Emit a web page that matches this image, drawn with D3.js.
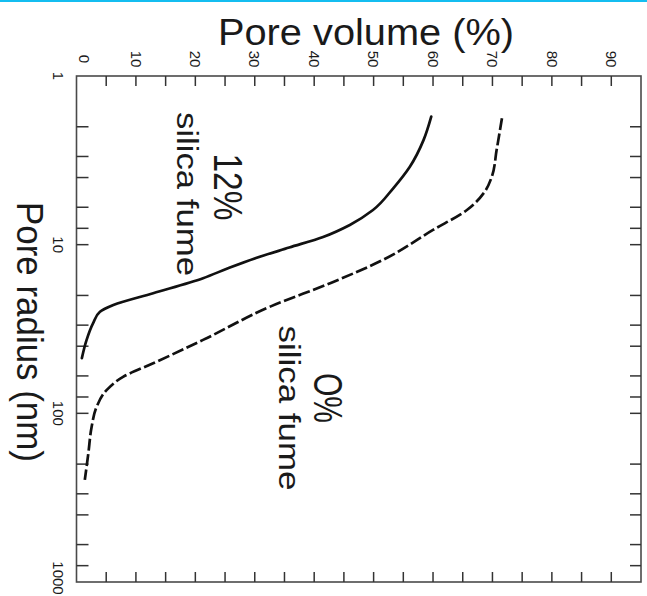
<!DOCTYPE html>
<html>
<head>
<meta charset="utf-8">
<script src="https://cdn.jsdelivr.net/npm/d3@7"></script>
<style>
  html, body { margin: 0; padding: 0; background: #fff; }
  svg { display: block; }
  text { font-family: "Liberation Sans", Arial, Helvetica, sans-serif; fill: #1a1a1a; }
</style>
</head>
<body>
<svg id="chart" width="647" height="596"></svg>
<script>
// Pore volume (%) against pore radius (nm), drawn turned a quarter clockwise:
// volume runs across the top, radius (log) runs down the page.

const volumeLabels = [0, 10, 20, 30, 40, 50, 60, 70, 80, 90];
const volumeTicks = d3.range(5, 95, 5);
const radiusLabels = [1, 10, 100, 1000];
const radiusMinor = [2, 3, 4, 6, 8, 20, 30, 40, 60, 80, 200, 300, 400, 600, 800];

// 12% silica fume
const radius12 = [1.74, 2.4, 3.45, 4.63, 6.23, 7.64, 9.0, 10.4, 12.0, 13.8, 15.8, 19.4, 22.8, 25.0, 29.2, 36.7, 47.1];
const volume12 = [59.7, 58.4, 56.1, 53.3, 49.9, 46.0, 41.5, 35.8, 30.2, 25.5, 21.3, 12.9, 6.2, 3.95, 2.8, 1.7, 0.9];

// 0% silica fume
const radius0 = [1.78, 2.75, 3.95, 4.85, 6.23, 8.18, 12.3, 16.8, 23.3, 36.7, 50.5, 60.6, 72.6, 91.2, 120, 172, 248];
const volume0 = [71.6, 70.7, 69.9, 68.7, 65.7, 60.0, 51.6, 42.9, 32.6, 21.3, 12.9, 7.9, 5.1, 3.4, 2.55, 2.0, 1.4];

const svg = d3.select("#chart");
const frameL = 76.5, frameR = 641, frameT = 76, frameB = 582;

const x = d3.scaleLinear().domain([0, 95]).range([frameL, frameR]);
const y = d3.scaleLog().domain([1, 1000]).range([frameT, frameB]);

// thin cyan rule along the top edge
svg.append("rect").attr("x", 0).attr("y", 0).attr("width", 647).attr("height", 2)
  .attr("fill", "#14bdf0");

// title over the volume axis
svg.append("text")
  .attr("x", 366).attr("y", 45)
  .attr("text-anchor", "middle")
  .attr("font-size", 36)
  .attr("textLength", 296).attr("lengthAdjust", "spacingAndGlyphs")
  .text("Pore volume (%)");

// radius axis title, read top to bottom
svg.append("text")
  .attr("transform", "translate(17,332) rotate(90)")
  .attr("text-anchor", "middle")
  .attr("font-size", 36)
  .attr("textLength", 260).attr("lengthAdjust", "spacingAndGlyphs")
  .text("Pore radius (nm)");

// frame
svg.append("rect")
  .attr("x", frameL).attr("y", frameT)
  .attr("width", frameR - frameL).attr("height", frameB - frameT)
  .attr("fill", "none").attr("stroke", "#4a4a4a").attr("stroke-width", 1.6);

const tickStyle = sel => sel.attr("stroke", "#333").attr("stroke-width", 1.5);

// volume ticks, inward from top and bottom
const vt = svg.append("g");
volumeTicks.forEach(v => {
  vt.append("line").attr("x1", x(v)).attr("x2", x(v)).attr("y1", frameT).attr("y2", frameT + 10).call(tickStyle);
  vt.append("line").attr("x1", x(v)).attr("x2", x(v)).attr("y1", frameB).attr("y2", frameB - 10).call(tickStyle);
});

// radius ticks, inward from left and right
const rt = svg.append("g");
radiusMinor.concat([10, 100]).forEach(r => {
  rt.append("line").attr("x1", frameL).attr("x2", frameL + 12).attr("y1", y(r)).attr("y2", y(r)).call(tickStyle);
  rt.append("line").attr("x1", frameR).attr("x2", frameR - 11).attr("y1", y(r)).attr("y2", y(r)).call(tickStyle);
});

// volume labels (turned); the corner label sits a little inside the frame
svg.append("g").selectAll("text").data(volumeLabels).join("text")
  .attr("transform", d => `translate(${x(d) - 5.3 + (d === 0 ? 8 : 0)},59) rotate(90)`)
  .attr("text-anchor", "middle")
  .attr("font-size", 15)
  .text(d => d);

// radius labels (turned); the bottom corner label is lifted to stay on the page
svg.append("g").selectAll("text").data(radiusLabels).join("text")
  .attr("transform", d => `translate(53,${y(d) - (d === 1000 ? 4 : 0)}) rotate(90)`)
  .attr("text-anchor", "middle")
  .attr("font-size", 15)
  .text(d => d);

// curves
const line = d3.line()
  .x(d => x(d[1]))
  .y(d => y(d[0]))
  .curve(d3.curveMonotoneY);

svg.append("path")
  .datum(d3.zip(radius12, volume12))
  .attr("d", line)
  .attr("fill", "none").attr("stroke", "#111").attr("stroke-width", 2.7)
  .attr("stroke-linecap", "round");

svg.append("path")
  .datum(d3.zip(radius0, volume0))
  .attr("d", line)
  .attr("fill", "none").attr("stroke", "#111").attr("stroke-width", 2.7)
  .attr("stroke-dasharray", "12,3.5");

// curve annotations
const note = (tx, ty, size, len, str) => svg.append("text")
  .attr("transform", `translate(${tx},${ty}) rotate(90)`)
  .attr("text-anchor", "middle")
  .attr("font-size", size)
  .attr("textLength", len).attr("lengthAdjust", "spacingAndGlyphs")
  .text(str);

note(214, 187, 40, 67, "12%");
note(177, 194, 30, 164, "silica fume");
note(314, 398, 40, 50, "O%");
note(279, 408, 30, 165, "silica fume");
</script>
</body>
</html>
